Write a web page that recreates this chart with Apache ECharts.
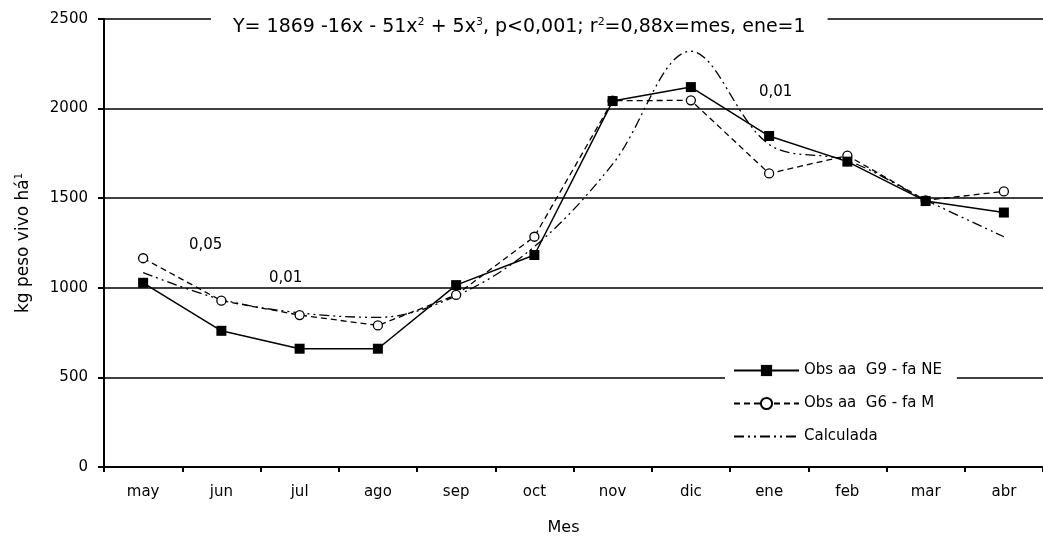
<!DOCTYPE html>
<html>
<head>
<meta charset="utf-8">
<script src="https://cdn.jsdelivr.net/npm/echarts@6/dist/echarts.min.js"></script>
<style>
html, body { margin: 0; padding: 0; background: #fff; }
#chart { width: 1043px; height: 542px; }
</style>
</head>
<body>
<div id="chart"></div>
<script>
// datos
var meses = ['may', 'jun', 'jul', 'ago', 'sep', 'oct', 'nov', 'dic', 'ene', 'feb', 'mar', 'abr'];
var obsG9 = [1028, 760, 660, 660, 1015, 1183, 2042, 2120, 1847, 1704, 1484, 1420];
var obsG6 = [1165, 928, 848, 790, 960, 1285, 2044, 2046, 1638, 1738, 1488, 1538];
var calculada = [1085, 935, 860, 835, 955, 1230, 1690, 2320, 1800, 1710, 1490, 1285];
var yTicks = [0, 500, 1000, 1500, 2000, 2500];

var fuente = '"DejaVu Sans", "Liberation Sans", Arial, sans-serif';

var myChart = echarts.init(document.getElementById('chart'));
myChart.setOption({
    animation: false,
    backgroundColor: '#fff',
    textStyle: { fontFamily: fuente, color: '#000' },
    title: {
        text: 'Y= 1869 -16x - 51x{sup|2} + 5x{sup|3}, p<0,001; r{sup|2}=0,88x=mes, ene=1',
        left: 211,
        top: 14,
        padding: [3, 22, 3, 22],
        backgroundColor: '#fff',
        textStyle: {
            fontFamily: fuente,
            fontWeight: 'normal',
            fontSize: 19,
            color: '#000',
            rich: {
                sup: { fontSize: 11, verticalAlign: 'top', padding: [0, 0, 9, 0], fontFamily: fuente }
            }
        }
    },
    legend: {
        orient: 'vertical',
        left: 725,
        top: 355,
        padding: [8, 15, 8, 8],
        backgroundColor: '#fff',
        itemWidth: 65,
        itemHeight: 14,
        itemGap: 18,
        textStyle: { fontFamily: fuente, fontSize: 15, color: '#000' },
        data: [
            'Obs aa  G9 - fa NE',
            'Obs aa  G6 - fa M',
            { name: 'Calculada', itemStyle: { opacity: 0 } }
        ]
    },
    grid: { left: 104, right: -10, top: 19, bottom: 75 },
    xAxis: {
        type: 'category',
        data: meses,
        boundaryGap: true,
        name: 'Mes',
        nameLocation: 'middle',
        nameGap: 53,
        nameTextStyle: { fontSize: 16, color: '#000', padding: [0, 20, 0, 0] },
        axisLine: { lineStyle: { color: '#000', width: 2 } },
        axisTick: { show: true, length: 5, lineStyle: { color: '#000', width: 2 } },
        axisLabel: { color: '#000', fontSize: 15, margin: 18 }
    },
    yAxis: {
        type: 'value',
        min: yTicks[0],
        max: yTicks[yTicks.length - 1],
        interval: 500,
        name: 'kg peso vivo há{sup|1}',
        nameLocation: 'middle',
        nameGap: 71,
        nameTextStyle: {
            fontSize: 17,
            color: '#000',
            rich: { sup: { fontSize: 10, verticalAlign: 'top', padding: [0, 0, 9, 0] } }
        },
        axisLine: { show: true, lineStyle: { color: '#000', width: 2 } },
        axisTick: { show: true, length: 6, lineStyle: { color: '#000', width: 2 } },
        axisLabel: {
            color: '#000',
            fontSize: 15,
            margin: 16,
            formatter: function (v) { return String(v); }
        },
        splitLine: { show: true, lineStyle: { color: '#000', width: 1.6 } }
    },
    graphic: [
        { type: 'text', left: 189, top: 238, style: { text: '0,05', font: '15px ' + fuente, fill: '#000' } },
        { type: 'text', left: 269, top: 271, style: { text: '0,01', font: '15px ' + fuente, fill: '#000' } },
        { type: 'text', left: 759, top: 85, style: { text: '0,01', font: '15px ' + fuente, fill: '#000' } }
    ],
    series: [
        {
            name: 'Calculada',
            type: 'line',
            data: calculada,
            smooth: 0.35,
            showSymbol: false,
            symbol: 'none',
            z: 1,
            itemStyle: { color: '#000' },
            lineStyle: { color: '#000', width: 1.3, type: [10, 4, 2, 4, 2, 4] }
        },
        {
            name: 'Obs aa  G6 - fa M',
            type: 'line',
            data: obsG6,
            symbol: 'circle',
            symbolSize: 9,
            z: 2,
            itemStyle: { color: '#fff', borderColor: '#000', borderWidth: 1.3 },
            lineStyle: { color: '#000', width: 1.3, type: [6, 4] }
        },
        {
            name: 'Obs aa  G9 - fa NE',
            type: 'line',
            data: obsG9,
            symbol: 'rect',
            symbolSize: 10,
            z: 3,
            itemStyle: { color: '#000' },
            lineStyle: { color: '#000', width: 1.5, type: 'solid' }
        }
    ]
});
</script>
</body>
</html>
